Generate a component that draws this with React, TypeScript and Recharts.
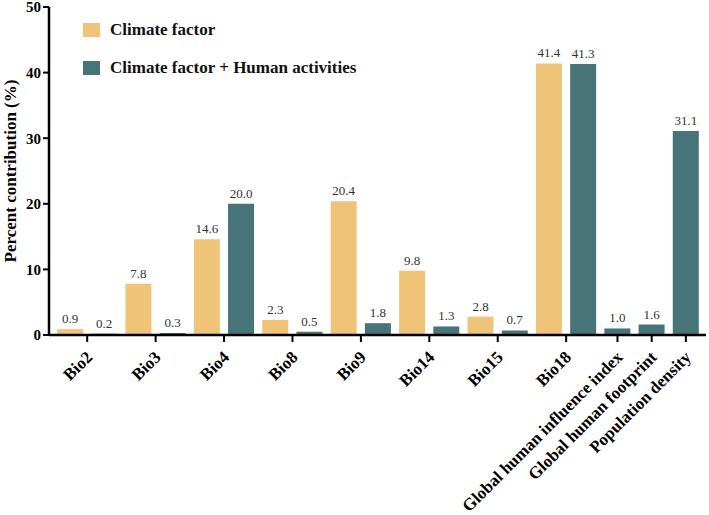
import React from "react";
import { Bar, BarChart, LabelList, Legend, XAxis, YAxis } from "recharts";

const SERIF = '"Liberation Serif", "Times New Roman", serif';
const CLIMATE = "#F0C478";
const HUMAN = "#467478";

const categories = [
  "Bio2",
  "Bio3",
  "Bio4",
  "Bio8",
  "Bio9",
  "Bio14",
  "Bio15",
  "Bio18",
  "Global human influence index",
  "Global human footprint",
  "Population density",
];
const climateValues: (number | null)[] = [0.9, 7.8, 14.6, 2.3, 20.4, 9.8, 2.8, 41.4, null, null, null];
const humanValues: (number | null)[] = [0.2, 0.3, 20.0, 0.5, 1.8, 1.3, 0.7, 41.3, 1.0, 1.6, 31.1];
const yTicks = [0, 10, 20, 30, 40, 50];

type Slot = {
  key: string;
  label: string;
  role: "first" | "second" | "single";
  climate: number | null;
  human: number | null;
};

// every bar gets its own band; paired categories share a label between their two bands
const slots: Slot[] = [];
categories.forEach((cat, i) => {
  const c = climateValues[i];
  const h = humanValues[i];
  if (c != null) {
    slots.push({ key: cat + "|c", label: cat, role: "first", climate: c, human: null });
    slots.push({ key: cat + "|h", label: cat, role: "second", climate: null, human: h });
  } else {
    slots.push({ key: cat, label: cat, role: "single", climate: null, human: h });
  }
});
const slotByKey = new Map(slots.map((s) => [s.key, s]));

function SlotTick(props: any) {
  const { x, y, payload } = props;
  const slot = slotByKey.get(payload.value);
  if (!slot || slot.role === "second") return null;
  const half = typeof payload.offset === "number" && payload.offset > 0 ? payload.offset : 17.1;
  const tx = slot.role === "first" ? x + half : x;
  const ty = y + 19;
  return (
    <g>
      <line x1={tx} x2={tx} y1={y} y2={y + 7} stroke="#000" strokeWidth={2} />
      <text
        x={tx + 2}
        y={ty}
        dy="0.35em"
        textAnchor="end"
        transform={`rotate(-45, ${tx + 2}, ${ty})`}
        fontFamily={SERIF}
        fontWeight="bold"
        fontSize={17}
        fill="#000"
      >
        {slot.label}
      </text>
    </g>
  );
}

function ValueLabel(props: any) {
  const { x, y, width, value } = props;
  if (value == null) return null;
  return (
    <text
      x={x + width / 2}
      y={y - 6}
      textAnchor="middle"
      fontFamily={SERIF}
      fontSize={13}
      fill="#333"
    >
      {Number(value).toFixed(1)}
    </text>
  );
}

function LegendBox(props: any) {
  const items = props.payload || [];
  return (
    <div style={{ fontFamily: SERIF, fontWeight: "bold", fontSize: 17, color: "#111" }}>
      {items.map((it: any) => (
        <div key={it.value} style={{ display: "flex", alignItems: "center", height: 38 }}>
          <span
            style={{ display: "inline-block", width: 17, height: 14, background: it.color, marginRight: 10 }}
          />
          <span>{it.value}</span>
        </div>
      ))}
    </div>
  );
}

export default function App() {
  return (
    <div style={{ position: "absolute", left: 0, top: 0, width: 709, height: 515, background: "#fff" }}>
      <BarChart
        width={709}
        height={515}
        data={slots}
        margin={{ top: 7, right: 3, left: 0, bottom: 0 }}
        barSize={26}
        barGap={-26}
      >
        <XAxis
          dataKey="key"
          type="category"
          interval={0}
          height={180}
          padding={{ left: 4, right: 3 }}
          axisLine={{ stroke: "#000", strokeWidth: 2.5 }}
          tickLine={false}
          tickSize={0}
          tickMargin={0}
          tick={<SlotTick />}
        />
        <YAxis
          width={49}
          domain={[0, 50]}
          ticks={yTicks}
          interval={0}
          axisLine={{ stroke: "#000", strokeWidth: 2.5 }}
          tickLine={{ stroke: "#000", strokeWidth: 2 }}
          tickSize={6}
          tick={{ fontFamily: SERIF, fontWeight: "bold", fontSize: 15, fill: "#000" }}
          label={{
            value: "Percent contribution (%)",
            angle: -90,
            position: "insideLeft",
            offset: 10,
            style: { textAnchor: "middle", fontFamily: SERIF, fontWeight: "bold", fontSize: 17, fill: "#000" },
          }}
        />
        <Legend
          verticalAlign="middle"
          align="center"
          layout="vertical"
          wrapperStyle={{ top: 11, left: 83, width: "auto" }}
          content={<LegendBox />}
        />
        <Bar dataKey="climate" name="Climate factor" fill={CLIMATE} isAnimationActive={false}>
          <LabelList dataKey="climate" content={<ValueLabel />} />
        </Bar>
        <Bar dataKey="human" name="Climate factor + Human activities" fill={HUMAN} isAnimationActive={false}>
          <LabelList dataKey="human" content={<ValueLabel />} />
        </Bar>
      </BarChart>
    </div>
  );
}
